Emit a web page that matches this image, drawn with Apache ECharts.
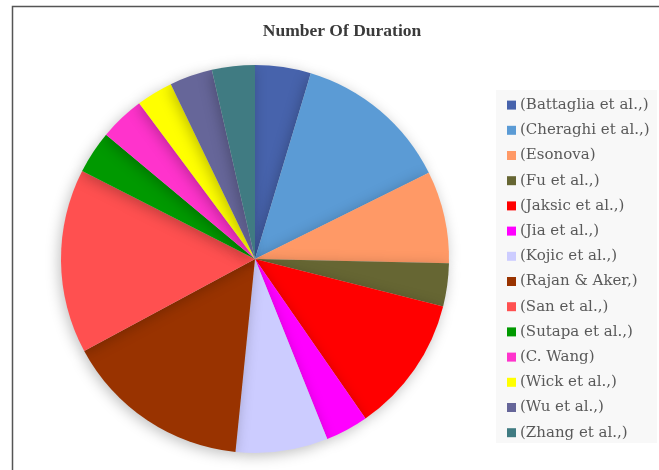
<!DOCTYPE html>
<html><head><meta charset="utf-8">
<script src="https://cdn.jsdelivr.net/npm/echarts@6/dist/echarts.min.js"></script>
<style>html,body{margin:0;padding:0;background:#fff}#c{width:659px;height:470px}</style>
</head><body><div id="c"></div>
<script>
const categories = ['(Battaglia et al.,)','(Cheraghi et al.,)','(Esonova)','(Fu et al.,)','(Jaksic et al.,)','(Jia et al.,)','(Kojic et al.,)','(Rajan & Aker,)','(San et al.,)','(Sutapa et al.,)','(C. Wang)','(Wick et al.,)','(Wu et al.,)','(Zhang et al.,)'];
const values = [1.3, 3.65, 2.15, 1.0, 3.2, 1.0, 2.15, 4.35, 4.3, 1.0, 1.05, 0.85, 1.0, 1.0];
const colors = ['#4763AC','#5B9BD5','#FF9966','#666633','#FF0000','#FF00FF','#CCCCFF','#993300','#FF5050','#009900','#FF33CC','#FFFF00','#666699','#407B82'];
const title = 'Number Of Duration';

const chart = echarts.init(document.getElementById('c'));
chart.setOption({
  animation: false,
  color: colors,
  graphic: [
    {type:'polyline', shape:{points:[[12.5,470],[12.5,6.5],[659,6.5]]}, style:{stroke:'#555',lineWidth:1.5,fill:null}},
    {type:'rect', shape:{x:496,y:90,width:161,height:353}, style:{fill:'#F8F8F8'}, z:-1},
    {type:'text', x:342, y:31, style:{text:title, align:'center', verticalAlign:'middle',
      font:'bold 17.5px "Liberation Serif"', fill:'#3a3a3a'}}
  ],
  legend: {orient:'vertical', left:502, top:92, itemWidth:9, itemHeight:9, itemGap:9, icon:'rect',
    textStyle:{fontFamily:'DejaVu Serif', fontSize:15, color:'#595959', lineHeight:16.2, padding:[0,0,0,-1]}},
  series: [{
    type:'pie', center:[255,259], radius:194, startAngle:90, clockwise:true,
    label:{show:false}, labelLine:{show:false},
    itemStyle:{borderWidth:0, shadowBlur:14, shadowColor:'rgba(0,0,0,0.25)', shadowOffsetX:-2, shadowOffsetY:3},
    emphasis:{disabled:true},
    data: categories.map((n,i)=>({name:n, value:values[i]}))
  }]
});
</script></body></html>
